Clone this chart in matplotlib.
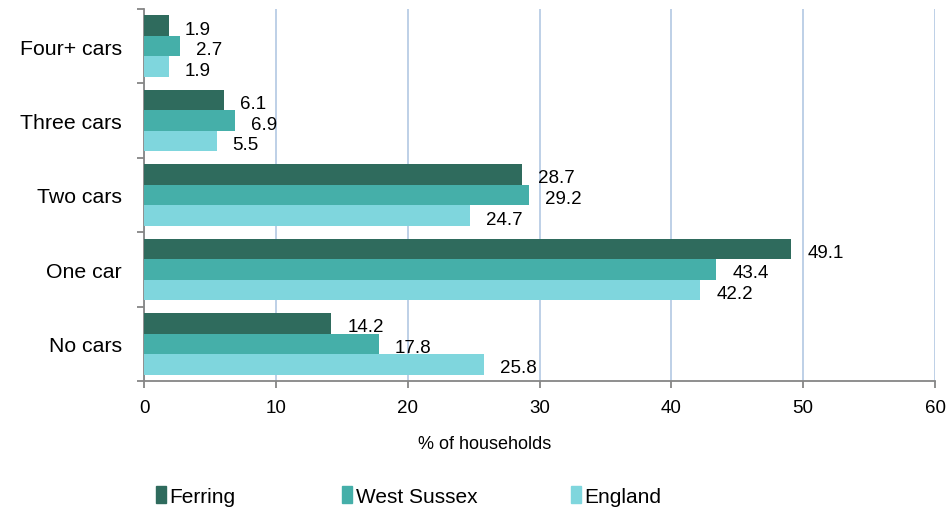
import numpy as np
import matplotlib
matplotlib.use('Agg')
import matplotlib.pyplot as plt
from matplotlib.patches import Patch

plt.rcParams['font.family'] = ['Liberation Sans', 'DejaVu Sans']

# data (bottom to top as drawn)
categories = ['No cars', 'One car', 'Two cars', 'Three cars', 'Four+ cars']
ferring = [14.2, 49.1, 28.7, 6.1, 1.9]
west_sussex = [17.8, 43.4, 29.2, 6.9, 2.7]
england = [25.8, 42.2, 24.7, 5.5, 1.9]
series_names = ['Ferring', 'West Sussex', 'England']
colors = ['#2F6B5D', '#45AFA9', '#7FD6DD']

fig = plt.figure(figsize=(9.46, 5.10), dpi=100)
ax = fig.add_axes([144/946, 1-382/510, (935-144)/946, (382-10)/510])

y = np.arange(len(categories))
h = 0.276
offsets = [h, 0, -h]
for vals, off, c, name in zip([ferring, west_sussex, england], offsets, colors, series_names):
    bars = ax.barh(y + off, vals, height=h, color=c, label=name, zorder=3)
    for b, v in zip(bars, vals):
        ax.annotate(f'{v:.1f}', (v, b.get_y() + b.get_height()/2),
                    xytext=(11.5, -2.5), textcoords='offset points',
                    ha='left', va='center', fontsize=13.5, color='black')

ax.set_xlim(0, 60)
ax.set_ylim(-0.5, 4.5)
ax.set_xticks(range(0, 61, 10))
ax.set_yticks(y)
ax.set_yticklabels(categories, fontsize=15.3)
ax.set_yticks(np.arange(-0.5, 5, 1), minor=True)
ax.tick_params(axis='y', which='major', length=0, pad=16)
ax.tick_params(axis='y', which='minor', length=5, color='#868686', width=1.3)
ax.tick_params(axis='x', length=5, color='#868686', width=1.3, labelsize=13.5, pad=8)

ax.xaxis.grid(True, color='#B9CDE5', linewidth=1.3, zorder=0)
for s in ['top', 'right']:
    ax.spines[s].set_visible(False)
for s in ['left', 'bottom']:
    ax.spines[s].set_color('#868686')
    ax.spines[s].set_linewidth(1.3)

fig.text(485/946, 1-445/510, '% of households', ha='center', va='center', fontsize=13)

# legend entries placed one by one along the bottom
legend_x = [156, 342, 571]
for c, name, lx in zip(colors, series_names, legend_x):
    lg = fig.legend([Patch(color=c)], [name], loc='center left',
                    bbox_to_anchor=(lx/946, 1-497/510), frameon=False, fontsize=15,
                    handlelength=0.5, handleheight=0.9, handletextpad=0.15,
                    borderpad=0, borderaxespad=0)

fig.savefig('out.png', dpi=100)
